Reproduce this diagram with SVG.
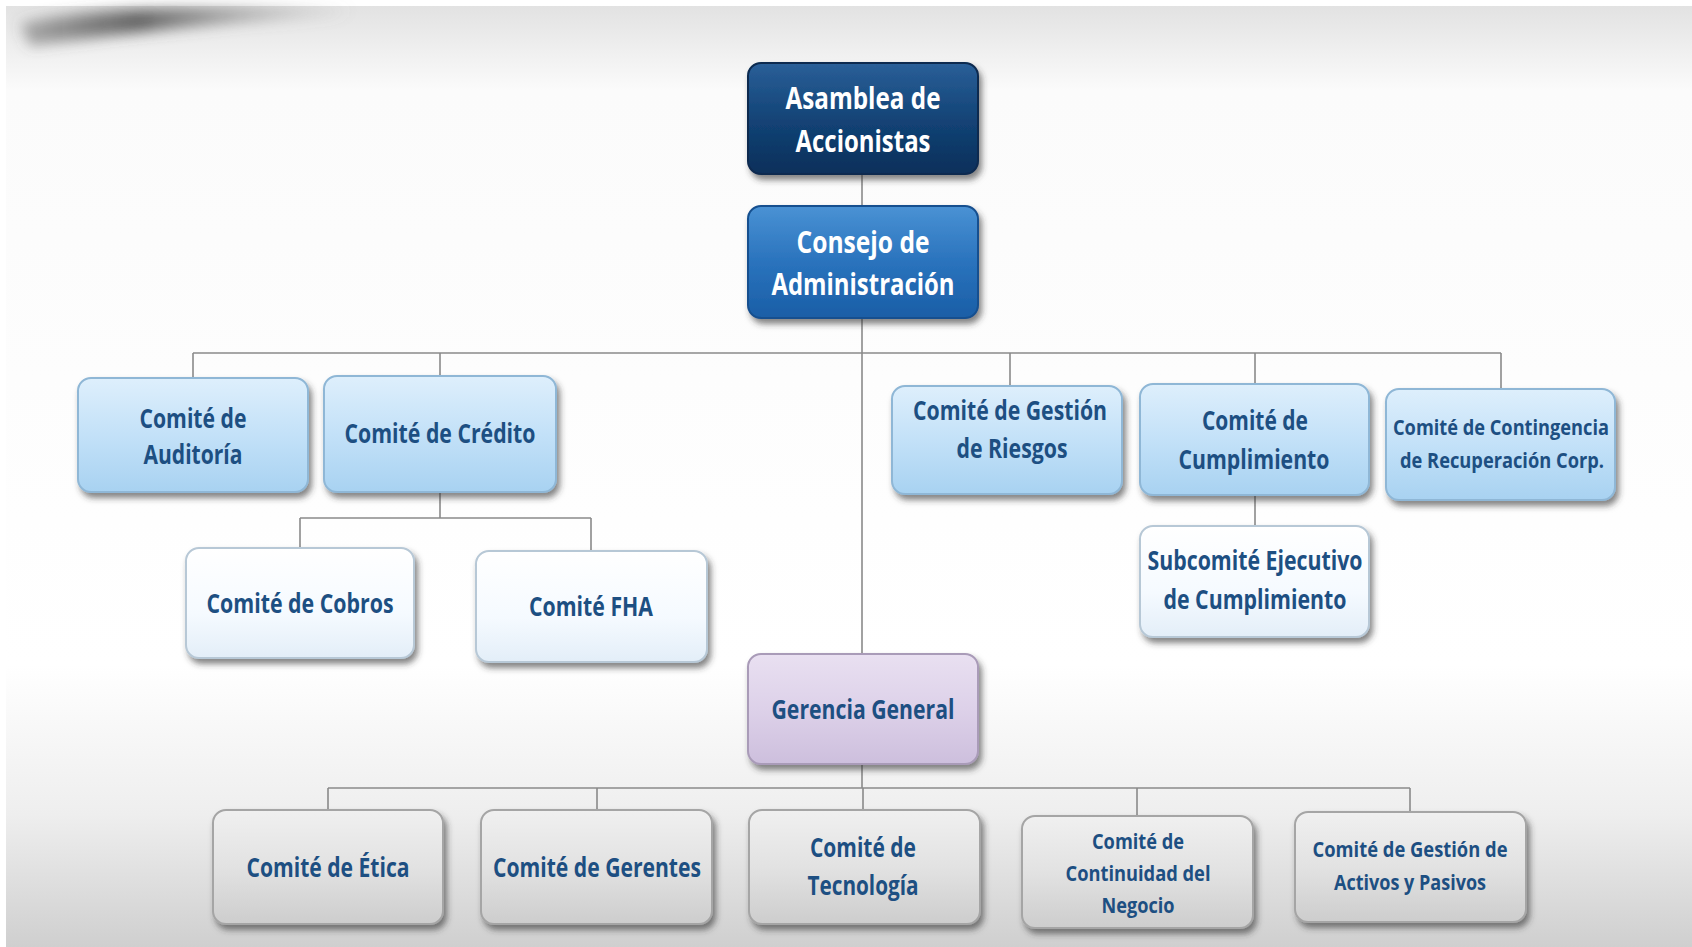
<svg xmlns="http://www.w3.org/2000/svg" width="1692" height="947" viewBox="0 0 1692 947">
<defs>
  <linearGradient id="bg" x1="0" y1="0" x2="0" y2="1">
    <stop offset="0" stop-color="#e2e2e2"/>
    <stop offset="0.09" stop-color="#fbfbfb"/>
    <stop offset="0.7" stop-color="#ffffff"/>
    <stop offset="0.86" stop-color="#eeeeee"/>
    <stop offset="1" stop-color="#cfcfcf"/>
  </linearGradient>
  <linearGradient id="gNavy" x1="0" y1="0" x2="0" y2="1">
    <stop offset="0" stop-color="#2a5f98"/>
    <stop offset="0.5" stop-color="#134477"/>
    <stop offset="1" stop-color="#0a2f5a"/>
  </linearGradient>
  <linearGradient id="gBlue" x1="0" y1="0" x2="0" y2="1">
    <stop offset="0" stop-color="#4a92d4"/>
    <stop offset="0.5" stop-color="#2a73bd"/>
    <stop offset="1" stop-color="#1a5ea6"/>
  </linearGradient>
  <linearGradient id="gLight" x1="0" y1="0" x2="0" y2="1">
    <stop offset="0" stop-color="#deeffc"/>
    <stop offset="0.5" stop-color="#c3e1f8"/>
    <stop offset="1" stop-color="#a8d2f1"/>
  </linearGradient>
  <linearGradient id="gWhite" x1="0" y1="0" x2="0" y2="1">
    <stop offset="0" stop-color="#ffffff"/>
    <stop offset="0.6" stop-color="#f5faff"/>
    <stop offset="1" stop-color="#e3eef8"/>
  </linearGradient>
  <linearGradient id="gLav" x1="0" y1="0" x2="0" y2="1">
    <stop offset="0" stop-color="#e9e0f1"/>
    <stop offset="0.5" stop-color="#ddd1e9"/>
    <stop offset="1" stop-color="#cdbfdd"/>
  </linearGradient>
  <linearGradient id="gGray" x1="0" y1="0" x2="0" y2="1">
    <stop offset="0" stop-color="#f0f0f0"/>
    <stop offset="0.5" stop-color="#e2e2e2"/>
    <stop offset="1" stop-color="#cdcdcd"/>
  </linearGradient>
  <linearGradient id="swoosh" x1="0" y1="0" x2="1" y2="0">
    <stop offset="0" stop-color="#5a5a5a" stop-opacity="0.45"/>
    <stop offset="0.35" stop-color="#4a4a4a" stop-opacity="0.85"/>
    <stop offset="1" stop-color="#888" stop-opacity="0"/>
  </linearGradient>
  <filter id="sh" x="-10%" y="-10%" width="125%" height="135%">
    <feDropShadow dx="3" dy="5" stdDeviation="3" flood-color="#333" flood-opacity="0.6"/>
  </filter>
  <filter id="blur" x="-20%" y="-200%" width="140%" height="500%">
    <feGaussianBlur stdDeviation="7"/>
  </filter>
</defs>
<style>
  .conn line { stroke: #8a8a8a; stroke-width: 1.6; fill: none; }
  .box { stroke-width: 2; filter: url(#sh); }
  .navy { fill: url(#gNavy); stroke: #082a50; }
  .blue { fill: url(#gBlue); stroke: #15508f; }
  .light { fill: url(#gLight); stroke: #8fb7d6; }
  .white { fill: url(#gWhite); stroke: #b7c8d6; }
  .lav { fill: url(#gLav); stroke: #a99bb8; }
  .gray { fill: url(#gGray); stroke: #a5a5a5; }
  text { font-family: "Open Sans", "Liberation Sans", sans-serif; font-weight: bold; text-anchor: middle; }
  .tw { fill: #ffffff; font-size: 30px; }
  .td { fill: #1d4f82; font-size: 26px; }
  .ts { fill: #1d4f82; font-size: 22px; }
</style>
<rect x="0" y="0" width="1692" height="947" fill="#ffffff"/>
<rect x="6" y="6" width="1686" height="941" fill="url(#bg)"/>
<path d="M 20 24 C 80 8, 200 6, 356 8 L 340 16 C 220 22, 120 34, 30 46 Z" fill="url(#swoosh)" filter="url(#blur)"/>

<g id="connectors" class="conn">
  <line x1="862" y1="174" x2="862" y2="206"/>
  <line x1="862" y1="318" x2="862" y2="654"/>
  <line x1="193" y1="353" x2="1501" y2="353"/>
  <line x1="193" y1="353" x2="193" y2="378"/>
  <line x1="440" y1="353" x2="440" y2="376"/>
  <line x1="1010" y1="353" x2="1010" y2="386"/>
  <line x1="1255" y1="353" x2="1255" y2="384"/>
  <line x1="1501" y1="353" x2="1501" y2="389"/>
  <line x1="440" y1="492" x2="440" y2="518"/>
  <line x1="300" y1="518" x2="591" y2="518"/>
  <line x1="300" y1="518" x2="300" y2="548"/>
  <line x1="591" y1="518" x2="591" y2="551"/>
  <line x1="1255" y1="495" x2="1255" y2="526"/>
  <line x1="862" y1="764" x2="862" y2="788"/>
  <line x1="328" y1="788" x2="1410" y2="788"/>
  <line x1="328" y1="788" x2="328" y2="810"/>
  <line x1="597" y1="788" x2="597" y2="810"/>
  <line x1="863" y1="788" x2="863" y2="810"/>
  <line x1="1137" y1="788" x2="1137" y2="816"/>
  <line x1="1410" y1="788" x2="1410" y2="812"/>
</g>

<g id="asamblea">
  <rect class="box navy" x="748" y="63" width="230" height="111" rx="13"/>
  <text class="tw" x="863" y="109" textLength="155" lengthAdjust="spacingAndGlyphs">Asamblea de</text>
  <text class="tw" x="863" y="152" textLength="135" lengthAdjust="spacingAndGlyphs">Accionistas</text>
</g>
<g id="consejo">
  <rect class="box blue" x="748" y="206" width="230" height="112" rx="13"/>
  <text class="tw" x="863" y="253" textLength="133" lengthAdjust="spacingAndGlyphs">Consejo de</text>
  <text class="tw" x="863" y="295" textLength="183" lengthAdjust="spacingAndGlyphs">Administración</text>
</g>
<g id="auditoria">
  <rect class="box light" x="78" y="378" width="230" height="114" rx="13"/>
  <text class="td" x="193" y="428" textLength="107" lengthAdjust="spacingAndGlyphs">Comité de</text>
  <text class="td" x="193" y="464" textLength="99" lengthAdjust="spacingAndGlyphs">Auditoría</text>
</g>
<g id="credito">
  <rect class="box light" x="324" y="376" width="232" height="116" rx="13"/>
  <text class="td" x="440" y="443" textLength="191" lengthAdjust="spacingAndGlyphs">Comité de Crédito</text>
</g>
<g id="cobros">
  <rect class="box white" x="186" y="548" width="228" height="110" rx="13"/>
  <text class="td" x="300" y="613" textLength="187" lengthAdjust="spacingAndGlyphs">Comité de Cobros</text>
</g>
<g id="fha">
  <rect class="box white" x="476" y="551" width="231" height="111" rx="13"/>
  <text class="td" x="591" y="616" textLength="124" lengthAdjust="spacingAndGlyphs">Comité FHA</text>
</g>
<g id="riesgos">
  <rect class="box light" x="892" y="386" width="230" height="108" rx="13"/>
  <text class="td" x="1010" y="420" textLength="194" lengthAdjust="spacingAndGlyphs">Comité de Gestión</text>
  <text class="td" x="1012" y="458" textLength="111" lengthAdjust="spacingAndGlyphs">de Riesgos</text>
</g>
<g id="cumplimiento">
  <rect class="box light" x="1140" y="384" width="229" height="111" rx="13"/>
  <text class="td" x="1255" y="430" textLength="106" lengthAdjust="spacingAndGlyphs">Comité de</text>
  <text class="td" x="1254" y="469" textLength="151" lengthAdjust="spacingAndGlyphs">Cumplimiento</text>
</g>
<g id="contingencia">
  <rect class="box light" x="1386" y="389" width="229" height="111" rx="13"/>
  <text class="ts" x="1501" y="435" textLength="216" lengthAdjust="spacingAndGlyphs">Comité de Contingencia</text>
  <text class="ts" x="1502" y="468" textLength="204" lengthAdjust="spacingAndGlyphs">de Recuperación Corp.</text>
</g>
<g id="subcomite">
  <rect class="box white" x="1140" y="526" width="229" height="111" rx="13"/>
  <text class="td" x="1255" y="570" textLength="215" lengthAdjust="spacingAndGlyphs">Subcomité Ejecutivo</text>
  <text class="td" x="1255" y="609" textLength="183" lengthAdjust="spacingAndGlyphs">de Cumplimiento</text>
</g>
<g id="gerencia">
  <rect class="box lav" x="748" y="654" width="230" height="110" rx="13"/>
  <text class="td" x="863" y="719" textLength="183" lengthAdjust="spacingAndGlyphs">Gerencia General</text>
</g>
<g id="etica">
  <rect class="box gray" x="213" y="810" width="230" height="114" rx="13"/>
  <text class="td" x="328" y="877" textLength="163" lengthAdjust="spacingAndGlyphs">Comité de Ética</text>
</g>
<g id="gerentes">
  <rect class="box gray" x="481" y="810" width="231" height="114" rx="13"/>
  <text class="td" x="597" y="877" textLength="208" lengthAdjust="spacingAndGlyphs">Comité de Gerentes</text>
</g>
<g id="tecnologia">
  <rect class="box gray" x="749" y="810" width="231" height="114" rx="13"/>
  <text class="td" x="863" y="857" textLength="106" lengthAdjust="spacingAndGlyphs">Comité de</text>
  <text class="td" x="863" y="895" textLength="111" lengthAdjust="spacingAndGlyphs">Tecnología</text>
</g>
<g id="continuidad">
  <rect class="box gray" x="1022" y="816" width="231" height="112" rx="13"/>
  <text class="ts" x="1138" y="849" textLength="92" lengthAdjust="spacingAndGlyphs">Comité de</text>
  <text class="ts" x="1138" y="881" textLength="145" lengthAdjust="spacingAndGlyphs">Continuidad del</text>
  <text class="ts" x="1138" y="913" textLength="73" lengthAdjust="spacingAndGlyphs">Negocio</text>
</g>
<g id="activos">
  <rect class="box gray" x="1295" y="812" width="231" height="110" rx="13"/>
  <text class="ts" x="1410" y="857" textLength="195" lengthAdjust="spacingAndGlyphs">Comité de Gestión de</text>
  <text class="ts" x="1410" y="890" textLength="152" lengthAdjust="spacingAndGlyphs">Activos y Pasivos</text>
</g>
</svg>
